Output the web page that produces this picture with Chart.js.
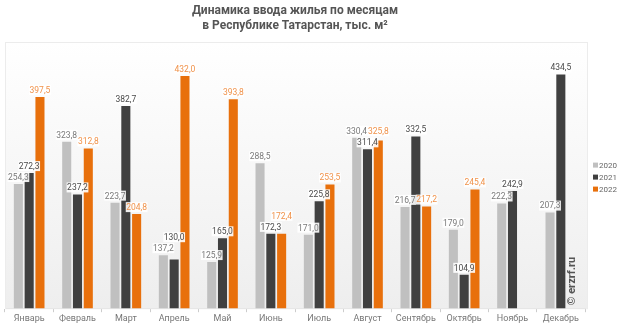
<!DOCTYPE html>
<html>
<head>
<meta charset="utf-8">
<script src="https://cdn.jsdelivr.net/npm/chart.js@4.4.1/dist/chart.umd.min.js"></script>
<style>
   html, body { margin: 0; padding: 0; background: #fff; }
   #wrap { width: 620px; height: 325px; }
</style>
</head>
<body>
<div id="wrap"><canvas id="canvas-1"></canvas></div>
<script>
const MONTHS = ["Январь", "Февраль", "Март", "Апрель", "Май", "Июнь", "Июль", "Август", "Сентябрь", "Октябрь", "Ноябрь", "Декабрь"];
const YEARS = ["2020", "2021", "2022"];
const VALUES_2020 = [254.3, 323.8, 223.7, 137.2, 125.9, 288.5, 171.0, 330.4, 216.7, 179.0, 222.3, 207.3];
const VALUES_2021 = [272.3, 237.2, 382.7, 130.0, 165.0, 172.3, 225.8, 311.4, 332.5, 104.9, 242.9, 434.5];
const VALUES_2022 = [397.5, 312.8, 204.8, 432.0, 393.8, 172.4, 253.5, 325.8, 217.2, 245.4, null, null];

const COLORS = ["#c0c0c0", "#404040", "#e8700c"];
const LABEL_COLORS = ["#7a7a7a", "#4a4a4a", "#f0924a"];
const FONT = "Roboto, 'Noto Sans', sans-serif";

const fmt = (v) => v.toFixed(1).replace(".", ",");

// gradient background behind the bars
const plotBackground = {
   id: "plotBackground",
   beforeDatasetsDraw(chart) {
      const { ctx, chartArea: a } = chart;
      const g = ctx.createLinearGradient(0, a.top, 0, a.bottom);
      g.addColorStop(0, "#ffffff");
      g.addColorStop(1, "#eeeeee");
      ctx.save();
      ctx.fillStyle = g;
      ctx.fillRect(a.left, a.top, a.right - a.left + 3, a.bottom - a.top);
      ctx.strokeStyle = "#ececec";
      ctx.lineWidth = 1;
      ctx.strokeRect(a.left + 0.5, a.top + 0.5, a.right - a.left + 2, a.bottom - a.top);
      ctx.restore();
   },
};

// value labels over the bars, pushed up when they collide
const valueLabels = {
   id: "valueLabels",
   afterDatasetsDraw(chart) {
      const { ctx } = chart;
      ctx.save();
      ctx.font = `8.5px ${FONT}`;
      ctx.textAlign = "center";
      ctx.textBaseline = "bottom";
      const placed = [];
      const tol = 1.5;
      chart.data.datasets.forEach((ds, di) => {
         const meta = chart.getDatasetMeta(di);
         meta.data.forEach((bar, i) => {
            const v = ds.data[i];
            if (v == null) return;
            const text = fmt(v);
            const w = ctx.measureText(text).width;
            const h = 10;
            const box = { x: bar.x - w / 2, y: bar.y - 2 - h, w, h };
            placed.forEach((p) => {
               if (box.x + tol < p.x + p.w && box.x + box.w > p.x + tol && box.y < p.y + p.h && box.y + box.h > p.y) {
                  box.y = p.y - h - 1;
               }
            });
            placed.push(box);
            ctx.fillStyle = "rgba(255,255,255,0.9)";
            ctx.fillRect(box.x - 0.5, box.y, box.w + 1, box.h);
            ctx.fillStyle = LABEL_COLORS[di];
            ctx.fillText(text, bar.x, box.y + h);
         });
      });
      ctx.restore();
   },
};

// small legend to the right of the plot, centred on it
const sideLegend = {
   id: "sideLegend",
   afterDraw(chart) {
      const { ctx, chartArea: a } = chart;
      const mid = (a.top + a.bottom) / 2;
      ctx.save();
      ctx.font = `8px ${FONT}`;
      ctx.textAlign = "left";
      ctx.textBaseline = "middle";
      chart.data.datasets.forEach((ds, i) => {
         const y = mid - 10 + i * 12;
         ctx.fillStyle = COLORS[i];
         ctx.fillRect(a.right + 8, y - 2.5, 5, 5);
         ctx.fillStyle = "#666";
         ctx.fillText(ds.label, a.right + 14, y + 0.5);
      });
      ctx.restore();
   },
};

const watermark = {
   id: "watermark",
   afterDraw(chart) {
      const { ctx, chartArea: a } = chart;
      ctx.save();
      ctx.translate(a.right - 13, a.bottom - 3);
      ctx.rotate(-Math.PI / 2);
      ctx.font = `bold 11px ${FONT}`;
      ctx.fillStyle = "#555";
      ctx.textAlign = "left";
      ctx.textBaseline = "middle";
      ctx.fillText("© erzrf.ru", 0, 0);
      ctx.restore();
   },
};

const drawChart = () => {
   const ctx = document.getElementById("canvas-1").getContext("2d");
   const series = [VALUES_2020, VALUES_2021, VALUES_2022];

   new Chart(ctx, {
      type: "bar",
      data: {
         labels: MONTHS,
         datasets: YEARS.map((year, i) => ({
            label: year,
            data: series[i],
            backgroundColor: COLORS[i],
            borderWidth: 0,
            categoryPercentage: 0.67,
            barPercentage: 0.84,
         })),
      },
      options: {
         responsive: true,
         maintainAspectRatio: false,
         animation: false,
         layout: {
            padding: { left: 5, right: 35, top: 0, bottom: 0 },
         },
         scales: {
            y: {
               display: false,
               min: 50,
               max: 488,
            },
            x: {
               grid: {
                  display: true,
                  drawOnChartArea: false,
                  tickLength: 4,
                  color: "#cccccc",
               },
               border: { color: "#cccccc" },
               ticks: {
                  padding: 1,
                  color: "#777",
                  font: { family: FONT, size: 9 },
               },
            },
         },
         plugins: {
            title: {
               display: true,
               text: ["Динамика ввода жилья по месяцам", "в Республике Татарстан, тыс. м²"],
               color: "#555",
               font: { family: FONT, size: 12, weight: "bold", lineHeight: 1.25 },
               padding: { top: 3, bottom: 9 },
            },
            legend: { display: false },
            tooltip: { enabled: false },
         },
      },
      plugins: [plotBackground, valueLabels, sideLegend, watermark],
   });
};

drawChart();
</script>
</body>
</html>
